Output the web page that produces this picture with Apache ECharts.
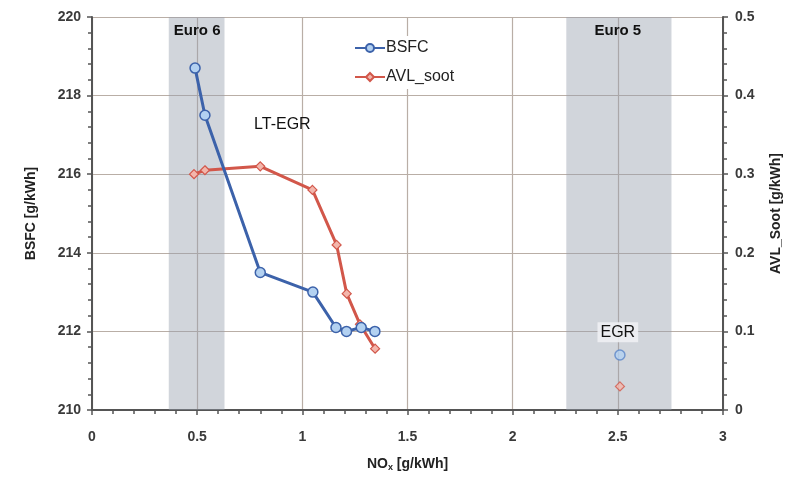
<!DOCTYPE html>
<html>
<head>
<meta charset="utf-8">
<script src="https://cdn.jsdelivr.net/npm/echarts@6/dist/echarts.min.js"></script>
<style>
  html, body { margin: 0; padding: 0; background: #fff; }
  #chart { width: 797px; height: 479px; }
</style>
</head>
<body>
<div id="chart"></div>
<script>
// NOx [g/kWh] and measured values, LT-EGR sweep
const noxLT = [0.49, 0.537, 0.80, 1.05, 1.16, 1.21, 1.28, 1.345];
const bsfcLT = [218.7, 217.5, 213.5, 213.0, 212.1, 212.0, 212.1, 212.0];
const sootNox = [0.485, 0.537, 0.80, 1.048, 1.163, 1.211, 1.274, 1.346];
const sootLT = [0.30, 0.305, 0.31, 0.28, 0.21, 0.148, 0.109, 0.078];

// Conventional EGR operating point
const noxEGR = [2.51];
const bsfcEGR = [211.4];
const sootEGR = [0.03];

// Emission limit bands on the NOx axis
const bandEuro6 = [0.365, 0.63];
const bandEuro5 = [2.255, 2.755];

const xTicks = { min: 0, max: 3, step: 0.5 };
const yLeftTicks = { min: 210, max: 220, step: 2 };
const yRightTicks = { min: 0, max: 0.5, step: 0.1 };

const pair = (xs, ys) => xs.map((x, i) => [x, ys[i]]);

const FONT = 'Liberation Sans, Arial, sans-serif';
const gridColor = '#b9aea6';
const axisColor = '#555';
const labelStyle = { color: '#3a3a3a', fontFamily: FONT, fontWeight: 'bold', fontSize: 14 };

const blueLine = '#3c62aa';
const blueFill = '#b3d1f1';
const redLine = '#d2574a';
const redFill = '#f3b6ac';

const chart = echarts.init(document.getElementById('chart'), null, { renderer: 'canvas' });

const option = {
  backgroundColor: '#fff',
  animation: false,
  grid: { left: 92, right: 74, top: 17, bottom: 69 },
  legend: {
    left: 350, top: 36, orient: 'vertical',
    backgroundColor: '#fff', padding: [4, 6, 4, 4],
    itemGap: 13, itemWidth: 30, itemHeight: 10,
    data: ['BSFC', 'AVL_soot'],
    textStyle: { fontFamily: FONT, fontSize: 16, color: '#222', padding: [0, 0, 0, -4] }
  },
  xAxis: {
    type: 'value', min: xTicks.min, max: xTicks.max, interval: xTicks.step,
    name: '{a|NO}{s|x}{a| [g/kWh]}', nameLocation: 'middle', nameGap: 47,
    nameTextStyle: {
      rich: {
        a: { fontFamily: FONT, fontWeight: 'bold', fontSize: 14, color: '#222' },
        s: { fontFamily: FONT, fontWeight: 'bold', fontSize: 9, color: '#222', verticalAlign: 'bottom', padding: [6, 0, 0, 0] }
      }
    },
    axisLine: { lineStyle: { color: axisColor, width: 2 } },
    axisTick: { length: 5, lineStyle: { color: axisColor, width: 1.5 } },
    minorTick: { show: true, splitNumber: 5, length: 4, lineStyle: { color: axisColor, width: 1.5 } },
    axisLabel: Object.assign({ margin: 20 }, labelStyle),
    splitLine: { show: true, lineStyle: { color: gridColor, width: 1.2 } }
  },
  yAxis: [
    {
      type: 'value', min: yLeftTicks.min, max: yLeftTicks.max, interval: yLeftTicks.step,
      name: 'BSFC [g/kWh]', nameLocation: 'middle', nameGap: 54,
      nameTextStyle: { fontFamily: FONT, fontWeight: 'bold', fontSize: 14, color: '#222' },
      axisLine: { show: true, lineStyle: { color: axisColor, width: 2 } },
      axisTick: { show: true, length: 5, lineStyle: { color: axisColor, width: 1.5 } },
      minorTick: { show: true, splitNumber: 5, length: 4, lineStyle: { color: axisColor, width: 1.5 } },
      axisLabel: Object.assign({ margin: 11 }, labelStyle),
      splitLine: { show: true, lineStyle: { color: gridColor, width: 1.2 } }
    },
    {
      type: 'value', min: yRightTicks.min, max: yRightTicks.max, interval: yRightTicks.step,
      position: 'right',
      name: 'AVL_Soot [g/kWh]', nameLocation: 'middle', nameGap: 46, nameRotate: 90,
      nameTextStyle: { fontFamily: FONT, fontWeight: 'bold', fontSize: 14, color: '#222' },
      axisLine: { show: true, lineStyle: { color: axisColor, width: 2 } },
      axisTick: { show: true, length: 5, lineStyle: { color: axisColor, width: 1.5 } },
      minorTick: { show: true, splitNumber: 5, length: 4, lineStyle: { color: axisColor, width: 1.5 } },
      axisLabel: Object.assign({ margin: 12, formatter: v => String(+v.toFixed(1)) }, labelStyle),
      splitLine: { show: false }
    }
  ],
  series: [
    {
      name: 'BSFC', type: 'line', yAxisIndex: 0, z: 4,
      data: pair(noxLT, bsfcLT),
      symbol: 'circle', symbolSize: 10,
      lineStyle: { color: blueLine, width: 3 },
      itemStyle: { color: blueFill, borderColor: blueLine, borderWidth: 1.5 },
      markArea: {
        silent: true,
        itemStyle: { color: 'rgba(150,160,172,0.44)' },
        data: [
          [{ xAxis: bandEuro6[0] }, { xAxis: bandEuro6[1] }],
          [{ xAxis: bandEuro5[0] }, { xAxis: bandEuro5[1] }]
        ]
      },
      markPoint: {
        silent: true, symbol: 'rect', symbolSize: 0,
        label: { show: true, fontFamily: FONT, fontWeight: 'bold', fontSize: 15, color: '#111' },
        data: [
          { coord: [0.5, 219.65], value: 'Euro 6', label: { formatter: 'Euro 6' } },
          { coord: [2.5, 219.65], value: 'Euro 5', label: { formatter: 'Euro 5' } },
          { coord: [0.905, 217.25], value: 'LT-EGR', label: { formatter: 'LT-EGR', fontWeight: 'normal', fontSize: 16 } },
          { coord: [2.5, 211.98], value: 'EGR', label: { formatter: 'EGR', fontWeight: 'normal', fontSize: 16, backgroundColor: 'rgba(238,240,243,0.9)', padding: [2, 3] } }
        ]
      }
    },
    {
      name: 'AVL_soot', type: 'line', yAxisIndex: 1, z: 3,
      data: pair(sootNox, sootLT),
      symbol: 'diamond', symbolSize: 9,
      lineStyle: { color: redLine, width: 3 },
      itemStyle: { color: redFill, borderColor: redLine, borderWidth: 1.2 }
    },
    {
      name: 'BSFC EGR', type: 'scatter', yAxisIndex: 0, z: 4,
      data: pair(noxEGR, bsfcEGR),
      symbol: 'circle', symbolSize: 10,
      itemStyle: { color: blueFill, borderColor: '#5b86c8', borderWidth: 1.5 }
    },
    {
      name: 'Soot EGR', type: 'scatter', yAxisIndex: 1, z: 3,
      data: pair(noxEGR, sootEGR),
      symbol: 'diamond', symbolSize: 9,
      itemStyle: { color: redFill, borderColor: redLine, borderWidth: 1.2 }
    }
  ]
};

chart.setOption(option);
</script>
</body>
</html>
